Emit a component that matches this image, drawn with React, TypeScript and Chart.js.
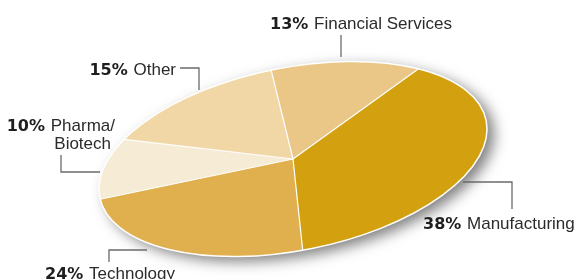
import React, { useEffect, useRef } from "react";
import { Chart, registerables } from "chart.js";

Chart.register(...registerables);

// ---- data ----
const categories = ["Manufacturing", "Technology", "Pharma/Biotech", "Other", "Financial Services"];
const shares = [38, 24, 10, 15, 13];
const labelLines = [["Manufacturing"], ["Technology"], ["Pharma/", "Biotech"], ["Other"], ["Financial Services"]];

// ---- styles / layout ----
const sliceColors = ["#D3A010", "#E0B04E", "#F6EBD5", "#F1D6A6", "#EAC787"];
const W = 582;
const H = 279;
const CX = 293;
const CY = 159;
const RX = 197;
const RY = 91.5;
const TILT = -0.196;
const START_ROTATION = 45.6;

type LabelLayout = { x: number; y: number; align: "left" | "right"; lineGap: number; line2x?: number; leader: number[][] };
const labelLayout: LabelLayout[] = [
  { x: 423, y: 229, align: "left", lineGap: 0, leader: [[463, 182], [512, 182], [512, 209]] },
  { x: 45, y: 279, align: "left", lineGap: 0, leader: [[147, 250], [109, 250], [109, 262]] },
  { x: 115, y: 131, align: "right", lineGap: 17.5, line2x: 111, leader: [[61, 155], [61, 172], [100, 172]] },
  { x: 176, y: 75, align: "right", lineGap: 0, leader: [[180, 68], [199, 68], [199, 90]] },
  { x: 270, y: 29, align: "left", lineGap: 0, leader: [[341, 35], [341, 57]] },
];

const BOLD_FONT = 'bold 16px "DejaVu Sans"';
const REG_FONT = '17px "Liberation Sans"';

function toScreen(angle: number, r: number) {
  const px = Math.cos(angle) * RX * r;
  const py = Math.sin(angle) * RY * r;
  return {
    x: CX + px * Math.cos(TILT) - py * Math.sin(TILT),
    y: CY + px * Math.sin(TILT) + py * Math.cos(TILT),
  };
}

const ellipsePlugin = {
  id: "ellipsePie",
  beforeDatasetsDraw(chart: any) {
    const ctx = chart.ctx as CanvasRenderingContext2D;
    const meta = chart.getDatasetMeta(0);
    const arc = meta.data[0];
    if (!arc) return;
    const p = arc.getProps(["x", "y", "outerRadius"], true);
    // shadow
    ctx.save();
    ctx.shadowColor = "rgba(0,0,0,0.5)";
    ctx.shadowBlur = 14;
    ctx.shadowOffsetX = 7;
    ctx.shadowOffsetY = 5;
    ctx.beginPath();
    ctx.ellipse(CX, CY, RX, RY, TILT, 0, Math.PI * 2);
    ctx.fillStyle = sliceColors[0];
    ctx.fill();
    ctx.restore();
    ctx.save();
    ctx.translate(CX, CY);
    ctx.rotate(TILT);
    ctx.scale(RX / p.outerRadius, RY / p.outerRadius);
    ctx.translate(-p.x, -p.y);
  },
  afterDatasetsDraw(chart: any) {
    const ctx = chart.ctx as CanvasRenderingContext2D;
    ctx.restore();
    const meta = chart.getDatasetMeta(0);
    ctx.save();
    ctx.strokeStyle = "#ffffff";
    ctx.lineWidth = 1.2;
    meta.data.forEach((el: any) => {
      const a = el.getProps(["startAngle"], true).startAngle;
      const e = toScreen(a, 1);
      ctx.beginPath();
      ctx.moveTo(CX, CY);
      ctx.lineTo(e.x, e.y);
      ctx.stroke();
    });
    ctx.lineWidth = 1.5;
    ctx.beginPath();
    ctx.ellipse(CX, CY, RX, RY, TILT, 0, Math.PI * 2);
    ctx.stroke();
    ctx.restore();
  },
  afterDraw(chart: any) {
    const ctx = chart.ctx as CanvasRenderingContext2D;
    ctx.save();
    ctx.textBaseline = "alphabetic";
    labelLayout.forEach((lay, i) => {
      // leader
      ctx.strokeStyle = "#6b6b6b";
      ctx.lineWidth = 1.3;
      ctx.beginPath();
      lay.leader.forEach((pt, j) => {
        if (j === 0) ctx.moveTo(pt[0], pt[1]);
        else ctx.lineTo(pt[0], pt[1]);
      });
      ctx.stroke();
      // text
      const pct = shares[i] + "%";
      const lines = labelLines[i];
      ctx.font = BOLD_FONT;
      const bw = ctx.measureText(pct).width;
      ctx.font = REG_FONT;
      const sw = ctx.measureText(" ").width + 1;
      const nw = ctx.measureText(lines[0]).width;
      const total = bw + sw + nw;
      const x0 = lay.align === "left" ? lay.x : lay.x - total;
      ctx.textAlign = "left";
      ctx.font = BOLD_FONT;
      ctx.fillStyle = "#1e1e1e";
      ctx.fillText(pct, x0, lay.y);
      ctx.font = REG_FONT;
      ctx.fillStyle = "#2b2b2b";
      ctx.fillText(lines[0], x0 + bw + sw, lay.y);
      for (let k = 1; k < lines.length; k++) {
        const w2 = ctx.measureText(lines[k]).width;
        const lx = lay.align === "left" ? lay.x : (lay.line2x ?? lay.x) - w2;
        ctx.fillText(lines[k], lx, lay.y + lay.lineGap * k);
      }
    });
    ctx.restore();
  },
};

export default function App() {
  const ref = useRef<HTMLCanvasElement | null>(null);
  useEffect(() => {
    if (!ref.current) return;
    const chart = new Chart(ref.current, {
      type: "pie",
      data: {
        labels: categories,
        datasets: [
          {
            data: shares,
            backgroundColor: sliceColors,
            borderWidth: 0,
          },
        ],
      },
      options: {
        responsive: false,
        maintainAspectRatio: false,
        animation: false,
        rotation: START_ROTATION,
        layout: { padding: 0 },
        plugins: {
          legend: { display: false },
          tooltip: { enabled: false },
        },
      },
      plugins: [ellipsePlugin],
    });
    return () => chart.destroy();
  }, []);
  return (
    <div style={{ position: "absolute", left: 0, top: 0, width: W, height: H, background: "#fff" }}>
      <canvas ref={ref} width={W} height={H} style={{ width: W, height: H, display: "block" }} />
    </div>
  );
}
